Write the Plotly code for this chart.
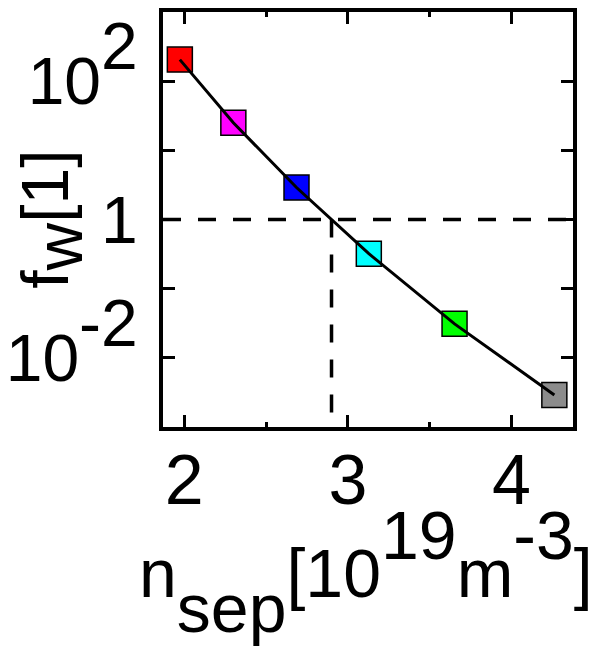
import plotly.graph_objects as go

# ---- data ----
n_sep = [1.973, 2.30, 2.686, 3.128, 3.652, 4.262]
f_w = [205, 25, 2.9, 0.32, 0.031, 0.0029]
point_colors = ["#ff0000", "#ff00ff", "#0000ff", "#00ffff", "#00ff00", "#8c8c8c"]

threshold_fw = 1.0
crossing_nsep = 2.90

x_range = [1.87, 4.376]
y_range_exp = [-3, 3]

x_tickvals = [2, 3, 4]
x_ticktext = ["2", "3", "4"]
x_minor_vals = [2.5, 3.5]
y_tickvals = [0.01, 0.1, 1, 10, 100]

FONT = "Liberation Sans, Arial, sans-serif"
TK = 66   # y tick label size
TKX = 70  # x tick label size
TSX = 68  # x title size
TSY = 66  # y title size


def sup(txt, size, lift):
    # full-size superscript; 'lift' sets the size of the shifting context
    return f"<span style='font-size:{lift}px'><sup><span style='font-size:{size}px'>{txt}</span></sup></span>"


def sub(txt, size, drop):
    return f"<span style='font-size:{drop}px'><sub><span style='font-size:{size}px'>{txt}</span></sub></span>"


y_ticktext = ["10" + sup("-2", TK, 83), "", "1", "", "10" + sup("2", TK, 83)]
x_title = "n" + sub("sep", TSX, 170) + "[10" + sup("19", TSX, 90) + "m" + sup("-3", TSX, 90) + "]"
y_title = "f" + sub("w", TSY, 70) + "[1]"

fig = go.Figure()

dash_style = dict(color="black", width=3.5, dash="18px,17px")
# dashed guide lines
fig.add_trace(go.Scatter(x=x_range, y=[threshold_fw, threshold_fw], mode="lines",
                         line=dash_style, hoverinfo="skip", showlegend=False))
fig.add_trace(go.Scatter(x=[crossing_nsep, crossing_nsep], y=[threshold_fw, 10 ** y_range_exp[0]],
                         mode="lines", line=dash_style, hoverinfo="skip", showlegend=False))
# markers
fig.add_trace(go.Scatter(x=n_sep, y=f_w, mode="markers",
                         marker=dict(symbol="square", size=25, color=point_colors,
                                     line=dict(color="black", width=1.5)),
                         showlegend=False, cliponaxis=False))
# line on top
fig.add_trace(go.Scatter(x=n_sep, y=f_w, mode="lines",
                         line=dict(color="black", width=3), showlegend=False))

fig.update_layout(
    width=596, height=653,
    margin=dict(l=163, r=23, t=12, b=226),
    paper_bgcolor="white", plot_bgcolor="white",
    font=dict(family=FONT, color="black", size=TK),
    showlegend=False,
    annotations=[
        dict(text=x_title, xref="paper", yref="paper", x=0.495, y=-0.35,
             xanchor="center", yanchor="middle", showarrow=False,
             font=dict(size=TSX, family=FONT, color="black")),
        dict(text=y_title, xref="paper", yref="paper", x=-0.27, y=0.5,
             xanchor="center", yanchor="middle", showarrow=False, textangle=-90,
             font=dict(size=TSY, family=FONT, color="black")),
    ],
)
fig.update_xaxes(
    range=x_range, showgrid=False, zeroline=False, automargin=False,
    showline=True, linecolor="black", linewidth=4, mirror="ticks",
    ticks="inside", ticklen=12, tickwidth=3, tickcolor="black",
    tickvals=x_tickvals, ticktext=x_ticktext,
    tickfont=dict(size=TKX, family=FONT), ticklabelstandoff=-11,
    minor=dict(tickvals=x_minor_vals, ticks="inside", ticklen=5, tickwidth=3, tickcolor="black"),
)
fig.update_yaxes(
    type="log", range=y_range_exp, showgrid=False, zeroline=False, automargin=False,
    showline=True, linecolor="black", linewidth=4, mirror="ticks",
    ticks="inside", ticklen=12, tickwidth=3, tickcolor="black",
    tickvals=y_tickvals, ticktext=y_ticktext,
    tickfont=dict(size=TK, family=FONT), ticklabelstandoff=8,
)

fig.write_html("out.html", config={"displayModeBar": False},
               post_script="document.body.style.margin='0';")
